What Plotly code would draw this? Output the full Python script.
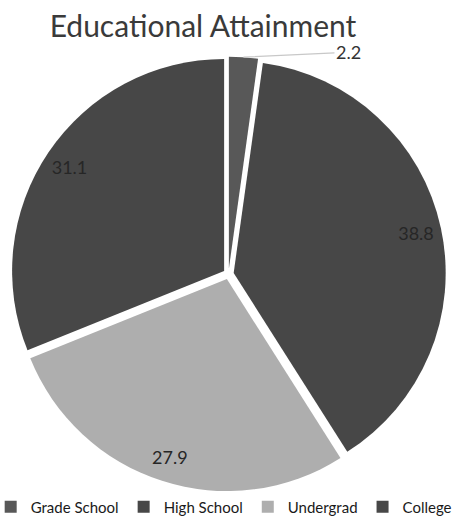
import math
import plotly.graph_objects as go

# ---- data ----
categories = ["Grade School", "High School", "Undergrad", "College"]
values = [2.2, 38.8, 27.9, 31.1]
slice_colors = ["#585858", "#474747", "#aeaeae", "#474747"]
title_text = "Educational Attainment"

# ---- geometry (pixels) ----
W, H = 466, 516
CX, CY, R = 228.5, 274.0, 212.0
PULL = 0.025
HALF = R * (1 + PULL)
dom_x = [(CX - HALF) / W, (CX + HALF) / W]
dom_y = [(H - CY - HALF) / H, (H - CY + HALF) / H]
FONT = "Lato, 'Open Sans', sans-serif"

fig = go.Figure()

# main pie (slices + legend)
fig.add_trace(go.Pie(
    labels=categories, values=values, sort=False, direction="clockwise",
    rotation=0, pull=[PULL] * len(values),
    marker=dict(colors=slice_colors, line=dict(width=0)),
    textinfo="none", domain=dict(x=dom_x, y=dom_y), showlegend=True,
    hoverinfo="label+value",
))

# transparent ring carrying the data labels near the outer edge
fig.add_trace(go.Pie(
    labels=categories, values=values, sort=False, direction="clockwise",
    rotation=0, pull=[PULL] * len(values), hole=0.76,
    marker=dict(colors=["rgba(0,0,0,0)"] * len(values), line=dict(width=0)),
    texttemplate="%{value:.1f}",
    textposition=["none", "inside", "inside", "inside"],
    insidetextorientation="horizontal",
    insidetextfont=dict(family=FONT, size=18, color="#262626"),
    domain=dict(x=dom_x, y=dom_y), showlegend=False, hoverinfo="skip",
))

# outside label for the small first slice, with leader line
total = sum(values)
ang = 2 * math.pi * (values[0] / 2) / total
hx = CX + HALF * math.sin(ang)
hy = CY - HALF * math.cos(ang)
fig.add_annotation(
    x=hx / W, y=1 - hy / H, xref="paper", yref="paper",
    text=f"{values[0]:.1f}", showarrow=True, arrowhead=0, arrowwidth=1.2,
    arrowcolor="#c8c8c8", ax=105, ay=-5, axref="pixel", ayref="pixel",
    font=dict(family=FONT, size=18, color="#333333"),
)

fig.update_layout(
    width=W, height=H,
    margin=dict(l=0, r=0, t=0, b=0, autoexpand=False),
    paper_bgcolor="white", plot_bgcolor="white",
    title=dict(text=title_text, x=203 / W, xanchor="center",
               y=1 - 26 / H, yanchor="middle", yref="paper",
               font=dict(family=FONT, size=30, color="#3a3a3a")),
    legend=dict(orientation="h", x=0.48, xanchor="center",
                y=9 / H, yanchor="middle",
                font=dict(family=FONT, size=15, color="#1a1a1a"),
                bgcolor="rgba(0,0,0,0)"),
)

fig.write_html("out.html")
